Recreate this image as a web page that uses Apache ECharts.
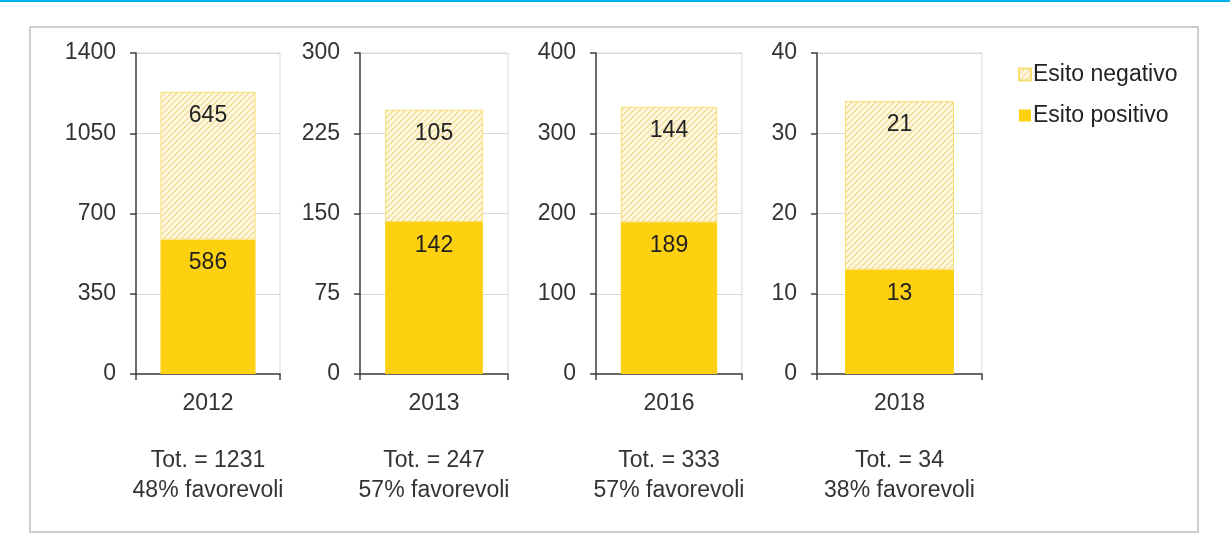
<!DOCTYPE html>
<html>
<head>
<meta charset="utf-8">
<script src="https://cdn.jsdelivr.net/npm/echarts@6/dist/echarts.min.js"></script>
<style>
  html, body { margin: 0; padding: 0; background: #fff; }
  #chart { width: 1230px; height: 534px; }
</style>
</head>
<body>
<div id="chart"></div>
<script>
// ---- data ----
const years = ['2012', '2013', '2016', '2018'];
const positivi = [586, 142, 189, 13];
const negativi = [645, 105, 144, 21];
const axisMax = [1400, 300, 400, 40];
const axisStep = [350, 75, 100, 10];
const seriesNames = ['Esito negativo', 'Esito positivo'];

// ---- layout ----
const gridLeft = [136, 360, 596, 817];
const gridWidth = [144, 148, 146, 165];
const FONT = 'Arial, "Liberation Sans", sans-serif';
const TXT = '#333333';
const POS_COLOR = '#FDD10F';

// hatch pattern for the negative outcome
function hatch() {
  const c = document.createElement('canvas');
  c.width = 6; c.height = 6;
  const g = c.getContext('2d');
  g.fillStyle = '#FEF8E0';
  g.fillRect(0, 0, 6, 6);
  g.strokeStyle = '#EED585';
  g.lineWidth = 1.1;
  g.beginPath();
  g.moveTo(0, 6); g.lineTo(6, 0);
  g.moveTo(-3, 3); g.lineTo(3, -3);
  g.moveTo(3, 9); g.lineTo(9, 3);
  g.stroke();
  return c;
}
const NEG_FILL = { image: hatch(), repeat: 'repeat' };

const grids = [], xAxes = [], yAxes = [], series = [];
years.forEach((yr, i) => {
  const tot = positivi[i] + negativi[i];
  const pct = Math.round(positivi[i] / tot * 100);
  grids.push({
    left: gridLeft[i], width: gridWidth[i], top: 53, height: 321,
    show: true, borderColor: '#d9d9d9', borderWidth: 1, backgroundColor: 'transparent'
  });
  xAxes.push({
    type: 'category', gridIndex: i, data: [yr],
    axisLine: { lineStyle: { color: '#404040', width: 1.5 } },
    axisTick: { show: true, length: 6, lineStyle: { color: '#404040', width: 1.5 } },
    axisLabel: {
      margin: 17,
      formatter: () => '{y|' + yr + '}\n{s| }\n{t|Tot. = ' + tot + '}\n{t|' + pct + '% favorevoli}',
      rich: {
        y: { fontFamily: FONT, fontSize: 23, color: TXT, lineHeight: 26, align: 'center' },
        s: { fontSize: 10, lineHeight: 29 },
        t: { fontFamily: FONT, fontSize: 23, color: TXT, lineHeight: 30, align: 'center' }
      }
    }
  });
  yAxes.push({
    type: 'value', gridIndex: i, min: 0, max: axisMax[i], interval: axisStep[i],
    axisLine: { show: true, lineStyle: { color: '#404040', width: 1.5 } },
    axisTick: { show: true, length: 6, lineStyle: { color: '#404040', width: 1.5 } },
    splitLine: { show: true, lineStyle: { color: '#d9d9d9', width: 1 } },
    axisLabel: { margin: 20, fontFamily: FONT, fontSize: 23, color: TXT, formatter: v => String(v) }
  });
  const lbl = { show: true, position: 'insideTop', distance: 12, fontFamily: FONT, fontSize: 23, color: '#222' };
  series.push({
    name: seriesNames[1], type: 'bar', stack: 's' + i, xAxisIndex: i, yAxisIndex: i,
    data: [positivi[i]], barWidth: '66%',
    itemStyle: { color: POS_COLOR },
    label: lbl, emphasis: { disabled: true }
  });
  series.push({
    name: seriesNames[0], type: 'bar', stack: 's' + i, xAxisIndex: i, yAxisIndex: i,
    data: [negativi[i]], barWidth: '66%',
    itemStyle: { color: NEG_FILL, borderColor: '#F5DF70', borderWidth: 1 },
    label: lbl, emphasis: { disabled: true }
  });
});

const chart = echarts.init(document.getElementById('chart'), null, { renderer: 'canvas' });
chart.setOption({
  animation: false,
  backgroundColor: '#ffffff',
  grid: grids,
  xAxis: xAxes,
  yAxis: yAxes,
  series: series,
  legend: {
    orient: 'vertical', left: 1013, top: 58,
    data: [seriesNames[0], seriesNames[1]],
    itemWidth: 12, itemHeight: 12, itemGap: 18,
    icon: 'rect',
    textStyle: { fontFamily: FONT, fontSize: 23, color: '#222', padding: [0, 0, 0, -3] }
  },
  graphic: [
    { type: 'rect', shape: { x: 0, y: 0, width: 1230, height: 2 }, style: { fill: '#00B0F0' }, silent: true },
    { type: 'rect', shape: { x: 30, y: 27, width: 1168, height: 505 }, style: { fill: 'none', stroke: '#bfbfbf', lineWidth: 1.5 }, silent: true, z: -1 }
  ]
});
</script>
</body>
</html>
